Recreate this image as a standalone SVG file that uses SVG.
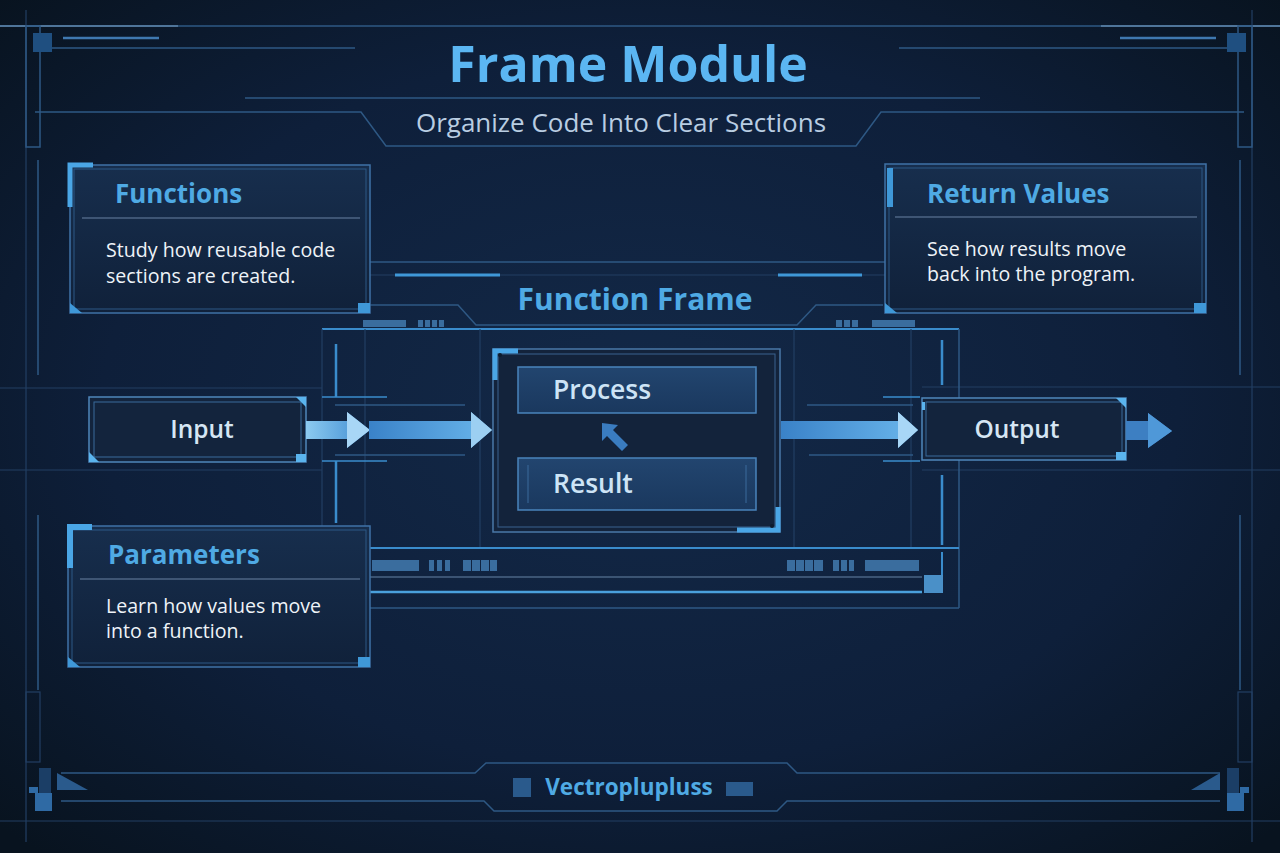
<svg xmlns="http://www.w3.org/2000/svg" width="1280" height="853" viewBox="0 0 1280 853">
<defs>
<radialGradient id="bg" cx="50%" cy="48%" r="70%">
<stop offset="0" stop-color="#132948"/>
<stop offset="0.6" stop-color="#0e1f3a"/>
<stop offset="1" stop-color="#08131f"/>
</radialGradient>
<linearGradient id="card" x1="0" y1="0" x2="0" y2="1">
<stop offset="0" stop-color="#172e4d"/>
<stop offset="1" stop-color="#10213a"/>
</linearGradient>
<linearGradient id="box" x1="0" y1="0" x2="0" y2="1">
<stop offset="0" stop-color="#22456f"/>
<stop offset="1" stop-color="#1a385e"/>
</linearGradient>
<linearGradient id="arr" x1="0" y1="0" x2="1" y2="0">
<stop offset="0" stop-color="#8ccaf0"/>
<stop offset="1" stop-color="#3d8ad0"/>
</linearGradient>
<linearGradient id="arr2" x1="0" y1="0" x2="1" y2="0">
<stop offset="0" stop-color="#3a82c8"/>
<stop offset="1" stop-color="#6ab6ec"/>
</linearGradient>
<linearGradient id="shine" x1="0" y1="0" x2="1" y2="0">
<stop offset="0" stop-color="#2a4d78"/>
<stop offset="0.5" stop-color="#9fb6cc"/>
<stop offset="1" stop-color="#2a4d78" stop-opacity="0.3"/>
</linearGradient>
<style>
.ln{fill:none;stroke:#2e5884;stroke-width:1.5}
.fn{fill:none;stroke:#223f63;stroke-width:1.2}
.bb{fill:#3f98d8}
.dk{fill:#1f4f80}
.bar{fill:#3a6d9e}
.cardO{fill:url(#card);stroke:#3f72a6;stroke-width:1.5}
.cardI{fill:none;stroke:#2c5886;stroke-width:1}
.ttl{font-family:"Open Sans","Noto Sans",sans-serif;font-weight:700;fill:#4faae4}
.body{font-family:"Open Sans","Noto Sans",sans-serif;font-size:19.6px;fill:#eef3f8}
.lbl{font-family:"Open Sans","Noto Sans",sans-serif;font-weight:600;font-size:24.5px;fill:#d6e6f4}
.div{stroke:#4d6584;stroke-width:1.5}
</style>
</defs>

<rect width="1280" height="853" fill="url(#bg)"/>

<!-- frame decoration -->
<g id="frame">
<line x1="0" y1="26" x2="1280" y2="26" class="ln"/>
<line x1="0" y1="26" x2="178" y2="26" stroke="#5e84aa" stroke-width="1.5"/>
<line x1="1101" y1="26" x2="1280" y2="26" stroke="#5e84aa" stroke-width="1.5"/>
<line x1="26" y1="10" x2="26" y2="842" class="fn"/>
<line x1="1252" y1="10" x2="1252" y2="842" class="fn"/>
<rect x="26" y="26" width="14" height="121" class="ln"/>
<rect x="1238" y="26" width="14" height="121" class="ln"/>
<rect x="33" y="33" width="19" height="19" class="dk"/>
<rect x="1227" y="33" width="19" height="19" class="dk"/>
<line x1="63" y1="38" x2="159" y2="38" stroke="#3f78b0" stroke-width="2.5"/>
<line x1="1120" y1="38" x2="1216" y2="38" stroke="#3f78b0" stroke-width="2.5"/>
<line x1="52" y1="48" x2="355" y2="48" class="ln"/>
<line x1="899" y1="48" x2="1227" y2="48" class="ln"/>
<line x1="245" y1="98" x2="980" y2="98" class="ln"/>
<polyline points="35,112 361,112 386,146 856,146 881,112 1244,112" class="ln"/>
<line x1="38" y1="160" x2="38" y2="375" class="ln"/>
<line x1="38" y1="515" x2="38" y2="690" class="ln"/>
<line x1="1240" y1="160" x2="1240" y2="375" class="ln"/>
<line x1="1240" y1="515" x2="1240" y2="690" class="ln"/>
<line x1="0" y1="388" x2="322" y2="388" class="fn"/>
<line x1="0" y1="470" x2="322" y2="470" class="fn"/>
<line x1="922" y1="387" x2="1280" y2="387" class="fn"/>
<line x1="922" y1="470" x2="1280" y2="470" class="fn"/>
<line x1="0" y1="821" x2="1280" y2="821" class="fn"/>
<polyline points="61,773 475,773 486,763 787,763 797,773 1220,773" class="ln"/>
<polyline points="61,801 484,801 494,811 777,811 787,801 1220,801" class="ln"/>
<line x1="61" y1="801" x2="178" y2="801" stroke="url(#shine)" stroke-width="3"/>
<line x1="1101" y1="801" x2="1215" y2="801" stroke="url(#shine)" stroke-width="3"/>
<rect x="26" y="692" width="14" height="70" class="fn"/>
<rect x="1238" y="692" width="14" height="70" class="fn"/>
<rect x="39" y="768" width="12" height="25" fill="#1b3e66"/>
<polygon points="57,773 57,790 88,790" fill="#2a5a8c"/>
<rect x="29" y="787" width="9" height="6" fill="#2f6aa4"/>
<rect x="35" y="793" width="17" height="18" fill="#2f6aa4"/>
<rect x="1227" y="768" width="12" height="25" fill="#1b3e66"/>
<polygon points="1220,773 1220,790 1191,790" fill="#2a5a8c"/>
<rect x="1240" y="787" width="9" height="6" fill="#2f6aa4"/>
<rect x="1227" y="793" width="17" height="18" fill="#2f6aa4"/>
<rect x="513" y="778" width="18" height="19" fill="#2a5a8c"/>
<rect x="726" y="782" width="27" height="14" fill="#2a5a8c"/>
</g>

<!-- titles -->
<g id="title">
<text x="628" y="82" text-anchor="middle" class="ttl" font-size="50" style="fill:#5bb6f2">Frame Module</text>
<text x="621" y="132" text-anchor="middle" font-family="Open Sans, Noto Sans, sans-serif" font-size="26" fill="#b9cde2">Organize Code Into Clear Sections</text>
</g>

<!-- function frame area decoration -->
<g id="function-frame">
<line x1="370" y1="262" x2="885" y2="262" class="ln"/>
<line x1="370" y1="275" x2="885" y2="275" class="fn"/>
<line x1="395" y1="275" x2="500" y2="275" stroke="#3f98d8" stroke-width="3"/>
<line x1="778" y1="275" x2="862" y2="275" stroke="#3f98d8" stroke-width="3"/>
<polyline points="369,305 458,305 476,325 797,325 816,305 883,305" class="ln"/>
<text x="635" y="310" text-anchor="middle" class="ttl" font-size="30">Function Frame</text>
<rect x="363" y="320" width="43" height="7" class="bar"/>
<g class="bar"><rect x="418" y="320" width="5" height="7"/><rect x="425" y="320" width="5" height="7"/><rect x="432" y="320" width="5" height="7"/><rect x="439" y="320" width="5" height="7"/></g>
<g class="bar"><rect x="836" y="320" width="6" height="7"/><rect x="844" y="320" width="6" height="7"/><rect x="852" y="320" width="6" height="7"/></g>
<rect x="872" y="320" width="43" height="7" class="bar"/>
<line x1="322" y1="329" x2="959" y2="329" stroke="#3a8ccc" stroke-width="2"/>
<line x1="322" y1="329" x2="322" y2="548" class="fn"/>
<line x1="959" y1="329" x2="959" y2="608" class="ln"/>
<line x1="365" y1="329" x2="365" y2="548" class="fn"/>
<line x1="480" y1="329" x2="480" y2="548" class="fn"/>
<line x1="794" y1="329" x2="794" y2="548" class="fn"/>
<line x1="911" y1="329" x2="911" y2="548" class="fn"/>
<line x1="336" y1="344" x2="336" y2="397" stroke="#3a8ccc" stroke-width="2.5"/>
<line x1="336" y1="461" x2="336" y2="523" stroke="#3a8ccc" stroke-width="2.5"/>
<line x1="942" y1="340" x2="942" y2="385" stroke="#3a8ccc" stroke-width="2.5"/>
<line x1="942" y1="475" x2="942" y2="545" stroke="#3a8ccc" stroke-width="2.5"/>
<line x1="322" y1="397" x2="387" y2="397" stroke="#3a8ccc" stroke-width="1.5"/>
<line x1="322" y1="461" x2="387" y2="461" stroke="#3a8ccc" stroke-width="1.5"/>
<line x1="335" y1="405" x2="465" y2="405" class="ln"/>
<line x1="335" y1="455" x2="465" y2="455" class="ln"/>
<line x1="883" y1="397" x2="920" y2="397" stroke="#3a8ccc" stroke-width="1.5"/>
<line x1="883" y1="461" x2="920" y2="461" stroke="#3a8ccc" stroke-width="1.5"/>
<line x1="807" y1="405" x2="913" y2="405" class="ln"/>
<line x1="809" y1="455" x2="913" y2="455" class="ln"/>
<line x1="369" y1="548" x2="959" y2="548" stroke="#3a8ccc" stroke-width="2"/>
<line x1="369" y1="577" x2="922" y2="577" stroke="#4a6584" stroke-width="1.5"/>
<line x1="369" y1="592" x2="922" y2="592" stroke="#4aa0dc" stroke-width="2.5"/>
<line x1="369" y1="608" x2="959" y2="608" class="ln"/>
<line x1="942" y1="552" x2="942" y2="575" stroke="#3a8ccc" stroke-width="2"/>
<rect x="924" y="575" width="19" height="18" fill="#4a90c8"/>
<rect x="372" y="560" width="47" height="11" class="bar"/>
<g class="bar"><rect x="429" y="560" width="5" height="11"/><rect x="437" y="560" width="5" height="11"/><rect x="445" y="560" width="5" height="11"/></g>
<g class="bar"><rect x="463" y="560" width="8" height="11"/><rect x="472" y="560" width="8" height="11"/><rect x="481" y="560" width="8" height="11"/><rect x="490" y="560" width="7" height="11"/></g>
<g class="bar"><rect x="787" y="560" width="8" height="11"/><rect x="796" y="560" width="8" height="11"/><rect x="805" y="560" width="8" height="11"/><rect x="814" y="560" width="9" height="11"/></g>
<g class="bar"><rect x="833" y="560" width="6" height="11"/><rect x="841" y="560" width="6" height="11"/><rect x="849" y="560" width="5" height="11"/></g>
<rect x="865" y="560" width="54" height="11" class="bar"/>
</g>

<!-- info cards -->
<g id="functions-card">
<rect x="70" y="165" width="300" height="148" class="cardO"/>
<rect x="74" y="169" width="292" height="140" class="cardI"/>
<path d="M70,207 V165 H93" fill="none" stroke="#4aa6e6" stroke-width="5"/>
<polygon points="70,313 70,303 82,313" class="bb"/>
<rect x="358" y="303" width="12" height="10" class="bb"/>
<text x="115" y="203" class="ttl" font-size="26">Functions</text>
<line x1="82" y1="218" x2="360" y2="218" class="div"/>
<text x="106" y="257" class="body">Study how reusable code</text>
<text x="106" y="283" class="body">sections are created.</text>
</g>

<g id="return-card">
<rect x="885" y="164" width="321" height="149" class="cardO"/>
<rect x="889" y="168" width="313" height="141" class="cardI"/>
<rect x="887" y="168" width="6" height="39" class="bb"/>
<polygon points="885,313 885,303 897,313" class="bb"/>
<rect x="1194" y="303" width="12" height="10" class="bb"/>
<text x="927" y="203" class="ttl" font-size="26">Return Values</text>
<line x1="895" y1="217" x2="1197" y2="217" class="div"/>
<text x="927" y="256" class="body">See how results move</text>
<text x="927" y="281" class="body">back into the program.</text>
</g>

<g id="parameters-card">
<rect x="68" y="526" width="302" height="141" class="cardO"/>
<rect x="72" y="530" width="294" height="133" class="cardI"/>
<path d="M70,568 V527 H92" fill="none" stroke="#4aa6e6" stroke-width="6"/>
<polygon points="68,667 68,657 80,667" class="bb"/>
<rect x="358" y="657" width="12" height="10" class="bb"/>
<text x="108" y="564" class="ttl" font-size="26">Parameters</text>
<line x1="80" y1="579" x2="360" y2="579" class="div"/>
<text x="106" y="613" class="body">Learn how values move</text>
<text x="106" y="638" class="body">into a function.</text>
</g>

<!-- flow nodes -->
<g id="input">
<rect x="89" y="397" width="217" height="65" fill="#13243d" stroke="#4f86ba" stroke-width="1.5"/>
<rect x="94" y="402" width="207" height="55" fill="none" stroke="#3a6a9c" stroke-width="1"/>
<path d="M296,397 H306 V407 Z" fill="#5ab4ee"/>
<path d="M89,452 V462 H99 Z" fill="#5ab4ee"/>
<rect x="296" y="454" width="10" height="8" fill="#5ab4ee"/>
<text x="202" y="438" text-anchor="middle" class="lbl">Input</text>
</g>

<g id="output">
<rect x="922" y="398" width="204" height="62" fill="#13243d" stroke="#4f86ba" stroke-width="1.5"/>
<rect x="926" y="402" width="196" height="54" fill="none" stroke="#3a6a9c" stroke-width="1"/>
<path d="M1116,398 H1126 V408 Z" fill="#5ab4ee"/>
<rect x="1116" y="452" width="10" height="8" fill="#5ab4ee"/>
<rect x="922" y="402" width="3" height="8" fill="#5ab4ee"/>
<text x="1017" y="438" text-anchor="middle" class="lbl">Output</text>
</g>

<g id="center-frame">
<rect x="493" y="349" width="287" height="183" fill="#13233b" stroke="#4a78a8" stroke-width="1.5"/>
<rect x="498" y="354" width="277" height="173" fill="none" stroke="#3a6390" stroke-width="1"/>
<path d="M495,380 V351 H518" fill="none" stroke="#4aa6e6" stroke-width="5"/>
<path d="M778,507 V530 H737" fill="none" stroke="#4aa6e6" stroke-width="5"/>
<circle cx="500" cy="355" r="2" fill="#0e1a2c"/>
<circle cx="772" cy="526" r="2" fill="#0e1a2c"/>
</g>

<g id="process">
<rect x="518" y="367" width="238" height="46" fill="url(#box)" stroke="#4a84bc" stroke-width="1.5"/>
<text x="553" y="399" class="lbl" font-size="26.5" style="fill:#cde4f6;font-size:26.5px">Process</text>
</g>

<g id="result">
<rect x="518" y="458" width="238" height="52" fill="url(#box)" stroke="#4a84bc" stroke-width="1.5"/>
<line x1="528" y1="465" x2="528" y2="503" stroke="#3a6a9c"/>
<line x1="746" y1="465" x2="746" y2="503" stroke="#3a6a9c"/>
<text x="553" y="493" class="lbl" style="fill:#cde4f6;font-size:26.5px">Result</text>
</g>

<!-- connectors -->
<g id="connectors">
<path d="M306,421 H347 V412 L370,430 L347,448 V439 H306 Z" fill="url(#arr)"/>
<polygon points="347,412 370,430 347,448" fill="#a8d6f6"/>
<path d="M369,421 H471 V412 L492,430 L471,448 V439 H369 Z" fill="url(#arr2)"/>
<polygon points="471,412 492,430 471,448" fill="#9ccff2"/>
<path d="M781,421 H898 V412 L918,430 L898,448 V439 H781 Z" fill="url(#arr2)"/>
<polygon points="898,412 918,430 898,448" fill="#a8d6f6"/>
<path d="M1126,421 H1148 V413 L1172,431 L1148,448 V440 H1126 Z" fill="#3d7fc2"/>
<polygon points="1148,413 1172,431 1148,448" fill="#4f98d8"/>
<path d="M602,423 L618,425 L613,430 L628,445 L622,451 L607,436 L602,441 Z" fill="#3a7cc0"/>
</g>

<g id="footer">
<text x="629" y="795" text-anchor="middle" class="ttl" font-size="22.5">Vectroplupluss</text>
</g>
</svg>
